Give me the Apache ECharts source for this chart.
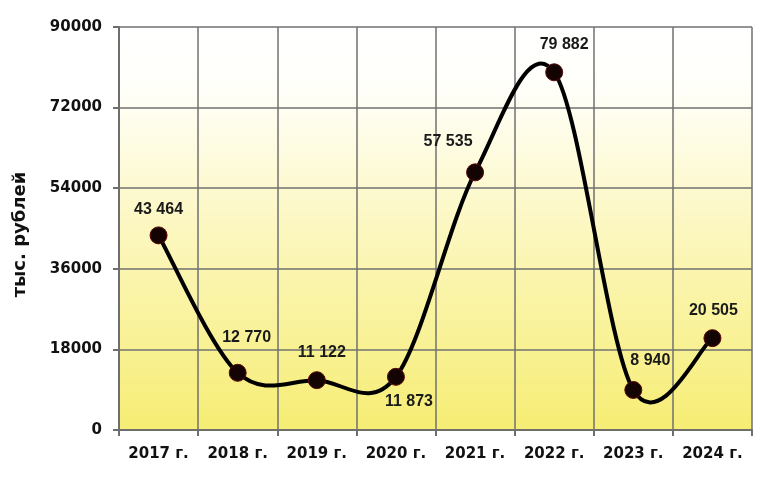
<!DOCTYPE html>
<html><head><meta charset="utf-8">
<script src="https://cdn.jsdelivr.net/npm/echarts@6/dist/echarts.min.js"></script>
<style>html,body{margin:0;padding:0;background:#fff}#c{width:768px;height:483px}</style>
</head><body><div id="c"></div>
<script>
var categories = ['2017 г.','2018 г.','2019 г.','2020 г.','2021 г.','2022 г.','2023 г.','2024 г.'];
var values = [43464, 12770, 11122, 11873, 57535, 79882, 8940, 20505];
var yTicks = [0, 18000, 36000, 54000, 72000, 90000];
var labelPlacement = [
  {position:'top', offset:[0,-1]},
  {position:'top', offset:[9,-10]},
  {position:'top', offset:[5,-3]},
  {position:'bottom', offset:[13,0]},
  {position:'top', offset:[-27,-6]},
  {position:'top', offset:[10,-3]},
  {position:'top', offset:[17,-4]},
  {position:'top', offset:[1,-3]}
];
function fmt(v){ return String(v).replace(/\B(?=(\d{3})+(?!\d))/g,' '); }
var chart = echarts.init(document.getElementById('c'));
var data = values.map(function(v,i){
  return {value:v, label:{position:labelPlacement[i].position, offset:labelPlacement[i].offset}};
});
// Smooth curve (Catmull-Rom style) computed from the data via the chart's own coordinate system
function renderSegment(params, api){
  var i = api.value(0);
  var n = values.length;
  if (i >= n - 1) return null;
  function pt(k){ k = Math.max(0, Math.min(n-1, k)); return api.coord([k, values[k]]); }
  var p0 = pt(i-1), p1 = pt(i), p2 = pt(i+1), p3 = pt(i+2);
  var c1 = [p1[0] + (p2[0]-p0[0])/6, p1[1] + (p2[1]-p0[1])/6];
  var c2 = [p2[0] - (p3[0]-p1[0])/6, p2[1] - (p3[1]-p1[1])/6];
  return {
    type:'bezierCurve',
    shape:{x1:p1[0], y1:p1[1], cpx1:c1[0], cpy1:c1[1], cpx2:c2[0], cpy2:c2[1], x2:p2[0], y2:p2[1]},
    style:{stroke:'#000', lineWidth:4, fill:null, lineCap:'round'}
  };
}
chart.setOption({
  animation:false,
  grid:{left:119, right:16, top:27, bottom:53, show:true, borderWidth:0,
    backgroundColor: new echarts.graphic.LinearGradient(0,0,0,1,[
      {offset:0,color:'#ffffff'},{offset:0.15,color:'#fffffa'},{offset:0.5,color:'#fcf7c0'},{offset:1,color:'#f6ed74'}])},
  xAxis:{type:'category', data:categories, boundaryGap:true,
    axisLine:{lineStyle:{color:'#6e6e6e', width:2}},
    axisTick:{show:true, length:6, lineStyle:{color:'#6e6e6e', width:2}},
    axisLabel:{color:'#111', fontWeight:'bold', fontSize:15, fontFamily:'DejaVu Sans', margin:17},
    splitLine:{show:true, lineStyle:{color:'#707070', width:1.5}}
  },
  yAxis:{type:'value', min:yTicks[0], max:yTicks[yTicks.length-1], interval:18000,
    name:'тыс. рублей', nameLocation:'middle', nameGap:90,
    nameTextStyle:{fontWeight:'bold', fontSize:18, color:'#111', fontFamily:'DejaVu Sans', padding:[0,12,0,0]},
    axisLine:{show:true, lineStyle:{color:'#6e6e6e', width:2}},
    axisTick:{show:true, length:6, lineStyle:{color:'#6e6e6e', width:2}},
    axisLabel:{color:'#111', fontWeight:'bold', fontSize:15, fontFamily:'DejaVu Sans', margin:17,
      formatter:function(v){return String(v);}},
    splitLine:{show:true, lineStyle:{color:'#707070', width:1.5}}
  },
  series:[{
    type:'custom', renderItem:renderSegment, z:3,
    data: values.map(function(v,i){return [i, v];}),
    encode:{x:0, y:1}, silent:true
  },{
    type:'line', data:data, z:4,
    lineStyle:{opacity:0, width:0},
    symbol:'circle', symbolSize:17,
    itemStyle:{color:'#140303', borderColor:'#5a0a0a', borderWidth:1},
    label:{show:true, formatter:function(p){return fmt(p.value);}, color:'#1a1a1a',
      fontSize:16, fontFamily:'Liberation Sans', fontWeight:'bold', distance:8}
  }]
});
</script></body></html>
